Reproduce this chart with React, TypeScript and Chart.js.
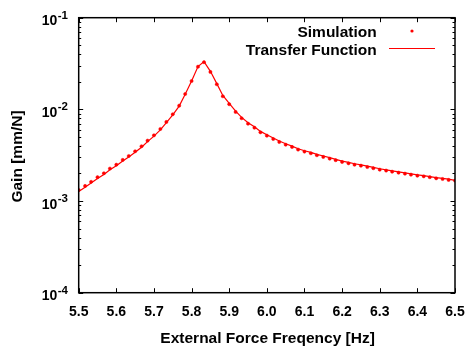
import React, { useEffect, useRef } from "react";
import { Chart, registerables } from "chart.js";

Chart.register(...registerables);

const freqHz = [
  5.5, 5.517, 5.533, 5.55, 5.567, 5.583, 5.6, 5.617, 5.633, 5.65,
  5.667, 5.683, 5.7, 5.717, 5.733, 5.75, 5.767, 5.783, 5.8, 5.817,
  5.833, 5.85, 5.867, 5.883, 5.9, 5.917, 5.933, 5.95, 5.967, 5.983,
  6.0, 6.017, 6.033, 6.05, 6.067, 6.083, 6.1, 6.117, 6.133, 6.15,
  6.167, 6.183, 6.2, 6.217, 6.233, 6.25, 6.267, 6.283, 6.3, 6.317,
  6.333, 6.35, 6.367, 6.383, 6.4, 6.417, 6.433, 6.45, 6.467, 6.483, 6.5,
];

const simulationGain = [
  0.00132, 0.00146, 0.00162, 0.00182, 0.00201, 0.00226, 0.00249, 0.00281, 0.0031, 0.00349,
  0.00396, 0.00456, 0.00521, 0.00611, 0.00729, 0.00885, 0.01097, 0.01472, 0.0204, 0.0292,
  0.0327, 0.0256, 0.0188, 0.0139, 0.01138, 0.00937, 0.008, 0.00698, 0.00631, 0.00562,
  0.00517, 0.00475, 0.00441, 0.00412, 0.00389, 0.00364, 0.00346, 0.00332, 0.00316, 0.00303,
  0.0029, 0.00279, 0.00267, 0.00258, 0.00249, 0.00243, 0.00235, 0.00228, 0.0022, 0.00215,
  0.00209, 0.00204, 0.00199, 0.00194, 0.00189, 0.00186, 0.00182, 0.00177, 0.00174, 0.0017, 0.00167,
];

const transferGain = [
  0.00127, 0.00141, 0.00157, 0.00176, 0.00195, 0.00219, 0.00242, 0.00273, 0.00302, 0.0034,
  0.00386, 0.00445, 0.0051, 0.00598, 0.00716, 0.00872, 0.01085, 0.0146, 0.0204, 0.0293,
  0.0332, 0.026, 0.0191, 0.0142, 0.01162, 0.00958, 0.00818, 0.00714, 0.00645, 0.00575,
  0.00528, 0.00486, 0.00451, 0.00421, 0.00397, 0.00372, 0.00354, 0.00339, 0.00323, 0.0031,
  0.00297, 0.00285, 0.00273, 0.00264, 0.00255, 0.00248, 0.0024, 0.00233, 0.00225, 0.00219,
  0.00213, 0.00208, 0.00203, 0.00198, 0.00193, 0.00189, 0.00185, 0.0018, 0.00177, 0.00173, 0.00168,
];

const xTickValues = [5.5, 5.6, 5.7, 5.8, 5.9, 6.0, 6.1, 6.2, 6.3, 6.4, 6.5];
const yTickExponents = [-1, -2, -3, -4];
const legendLabels = ["Simulation", "Transfer Function"];
const xTitle = "External Force Freqency [Hz]";
const yTitle = "Gain [mm/N]";

const FONT = '"Liberation Sans", Arial, Helvetica, sans-serif';
const RED = "#ff0000";

const framePlugin = {
  id: "gnuplotFrame",
  afterDraw(chart: any) {
    const ctx = chart.ctx as CanvasRenderingContext2D;
    const { left, right, top, bottom } = chart.chartArea;
    const xs = chart.scales.x;
    const ys = chart.scales.y;
    ctx.save();
    ctx.strokeStyle = "#000";
    ctx.fillStyle = "#000";

    // ticks
    ctx.lineWidth = 1;
    const major = 4.5;
    const minor = 2.5;
    ctx.beginPath();
    xTickValues.forEach((v) => {
      const px = Math.round(xs.getPixelForValue(v)) + 0.5;
      ctx.moveTo(px, bottom);
      ctx.lineTo(px, bottom - major);
      ctx.moveTo(px, top);
      ctx.lineTo(px, top + major);
    });
    yTickExponents.forEach((e) => {
      for (let m = 1; m <= 9; m++) {
        const v = m * Math.pow(10, e - 1);
        if (v < ys.min * 0.999 || v > ys.max * 1.001) continue;
        const py = Math.round(ys.getPixelForValue(v)) + 0.5;
        const len = m === 1 ? major : minor;
        ctx.moveTo(left, py);
        ctx.lineTo(left + len, py);
        ctx.moveTo(right, py);
        ctx.lineTo(right - len, py);
      }
    });
    const pyTop = Math.round(ys.getPixelForValue(0.1)) + 0.5;
    ctx.moveTo(left, pyTop);
    ctx.lineTo(left + major, pyTop);
    ctx.moveTo(right, pyTop);
    ctx.lineTo(right - major, pyTop);
    ctx.stroke();

    // frame
    ctx.lineWidth = 1.5;
    ctx.strokeRect(left, top, right - left, bottom - top);

    // x tick labels
    ctx.font = `bold 14px ${FONT}`;
    ctx.textAlign = "center";
    ctx.textBaseline = "alphabetic";
    xTickValues.forEach((v) => {
      ctx.fillText(v.toFixed(1), xs.getPixelForValue(v), 316);
    });

    // y tick labels with superscript
    yTickExponents.forEach((e) => {
      const py = ys.getPixelForValue(Math.pow(10, e));
      const base = "10";
      const sup = String(e);
      ctx.font = `bold 14px ${FONT}`;
      const wb = ctx.measureText(base).width;
      ctx.font = `bold 11.5px ${FONT}`;
      const ws = ctx.measureText(sup).width;
      const rightEdge = 68;
      const x0 = rightEdge - ws - wb - 0.5;
      ctx.textAlign = "left";
      ctx.font = `bold 14px ${FONT}`;
      ctx.fillText(base, x0, py + 7.5);
      ctx.font = `bold 11.5px ${FONT}`;
      ctx.fillText(sup, x0 + wb + 0.5, py + 1);
    });

    // x title
    ctx.font = `bold 15.5px ${FONT}`;
    ctx.textAlign = "center";
    ctx.fillText(xTitle, 267.6, 342.7);

    // y title
    ctx.save();
    ctx.translate(17.5, 156.5);
    ctx.rotate(-Math.PI / 2);
    ctx.textBaseline = "middle";
    ctx.fillText(yTitle, 0, 0);
    ctx.restore();

    // legend
    ctx.font = `bold 15.5px ${FONT}`;
    ctx.textAlign = "right";
    ctx.textBaseline = "alphabetic";
    ctx.fillText(legendLabels[0], 376.7, 37.3);
    ctx.fillText(legendLabels[1], 376.7, 55);
    ctx.fillStyle = RED;
    ctx.beginPath();
    ctx.arc(412, 31, 1.6, 0, Math.PI * 2);
    ctx.fill();
    ctx.strokeStyle = RED;
    ctx.lineWidth = 1;
    ctx.beginPath();
    ctx.moveTo(389, 48.5);
    ctx.lineTo(435, 48.5);
    ctx.stroke();

    ctx.restore();
  },
};

export default function App() {
  const canvasRef = useRef<HTMLCanvasElement | null>(null);

  useEffect(() => {
    document.body.style.margin = "0";
    const canvas = canvasRef.current;
    if (!canvas) return;
    const chart = new Chart(canvas, {
      type: "line",
      data: {
        datasets: [
          {
            label: legendLabels[1],
            data: freqHz.map((f, i) => ({ x: f, y: transferGain[i] })),
            borderColor: RED,
            borderWidth: 1.2,
            pointRadius: 0,
            tension: 0,
            fill: false,
            order: 2,
          },
          {
            label: legendLabels[0],
            data: freqHz.map((f, i) => ({ x: f, y: simulationGain[i] })),
            showLine: false,
            pointRadius: 1.6,
            pointBackgroundColor: RED,
            pointBorderColor: RED,
            pointBorderWidth: 0.5,
            order: 1,
          },
        ],
      },
      options: {
        animation: false,
        responsive: false,
        maintainAspectRatio: false,
        devicePixelRatio: 1,
        layout: { padding: { left: 78.7, right: 16, top: 17.7, bottom: 61.3 } },
        plugins: {
          legend: { display: false },
          tooltip: { enabled: false },
          title: { display: false },
        },
        events: [],
        scales: {
          x: { type: "linear", min: 5.5, max: 6.5, display: false },
          y: { type: "logarithmic", min: 0.0001, max: 0.1, display: false },
        },
      },
      plugins: [framePlugin],
    });
    return () => chart.destroy();
  }, []);

  return (
    <div style={{ position: "fixed", left: 0, top: 0, width: 471, height: 354, background: "#fff" }}>
      <canvas ref={canvasRef} width={471} height={354} style={{ width: 471, height: 354 }} />
    </div>
  );
}
